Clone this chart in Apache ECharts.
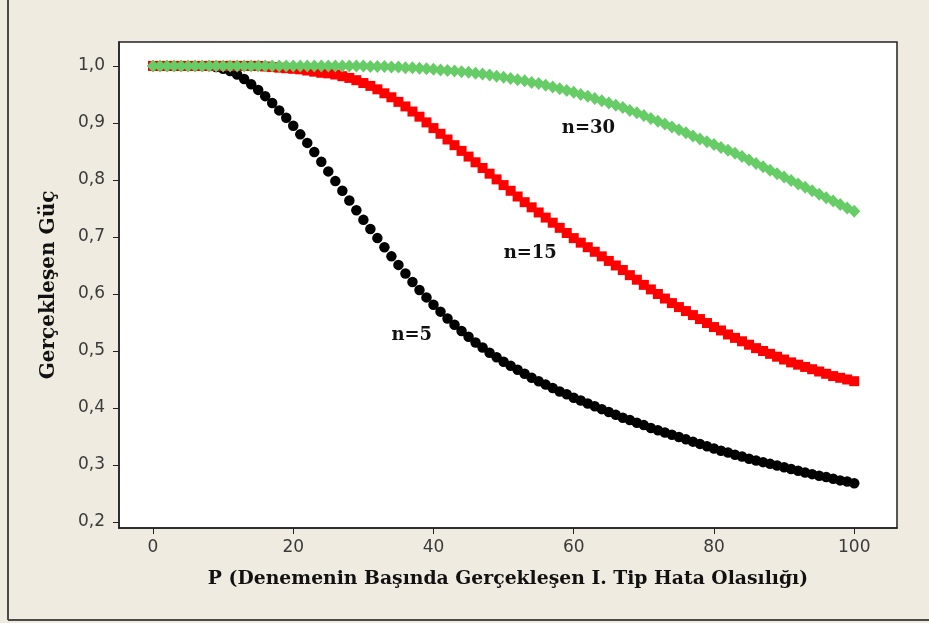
<!DOCTYPE html>
<html>
<head>
<meta charset="utf-8">
<script src="https://cdn.jsdelivr.net/npm/echarts@6/dist/echarts.min.js"></script>
<style>
  html, body { margin: 0; padding: 0; background: #efebe1; }
  #chart { width: 929px; height: 623px; }
</style>
</head>
<body>
<div id="chart"></div>
<script>
// ---- data ----
const pValues = [
  0, 1, 2, 3, 4, 5, 6, 7, 8, 9,
  10, 11, 12, 13, 14, 15, 16, 17, 18, 19,
  20, 21, 22, 23, 24, 25, 26, 27, 28, 29,
  30, 31, 32, 33, 34, 35, 36, 37, 38, 39,
  40, 41, 42, 43, 44, 45, 46, 47, 48, 49,
  50, 51, 52, 53, 54, 55, 56, 57, 58, 59,
  60, 61, 62, 63, 64, 65, 66, 67, 68, 69,
  70, 71, 72, 73, 74, 75, 76, 77, 78, 79,
  80, 81, 82, 83, 84, 85, 86, 87, 88, 89,
  90, 91, 92, 93, 94, 95, 96, 97, 98, 99,
  100
];

// n=5
const power5 = [
  1.000, 1.000, 1.000, 1.000, 1.000, 1.000, 1.000, 1.000, 1.000, 0.998,
  0.995, 0.991, 0.985, 0.977, 0.968, 0.958, 0.947, 0.935, 0.922, 0.909,
  0.895, 0.880, 0.865, 0.849, 0.832, 0.815, 0.798, 0.781, 0.764, 0.747,
  0.730, 0.714, 0.698, 0.682, 0.666, 0.651, 0.636, 0.621, 0.607, 0.594,
  0.581, 0.569, 0.557, 0.546, 0.535, 0.525, 0.515, 0.506, 0.497, 0.489,
  0.481, 0.474, 0.467, 0.460, 0.453, 0.447, 0.441, 0.435, 0.429, 0.424,
  0.418, 0.413, 0.408, 0.403, 0.398, 0.393, 0.388, 0.383, 0.379, 0.374,
  0.370, 0.365, 0.361, 0.357, 0.353, 0.349, 0.345, 0.341, 0.337, 0.333,
  0.329, 0.325, 0.322, 0.318, 0.315, 0.311, 0.308, 0.305, 0.302, 0.299,
  0.296, 0.293, 0.290, 0.287, 0.284, 0.281, 0.279, 0.276, 0.273, 0.271,
  0.268
];

// n=15
const power15 = [
  1.000, 1.000, 1.000, 1.000, 1.000, 1.000, 1.000, 1.000, 1.000, 1.000,
  1.000, 1.000, 1.000, 1.000, 1.000, 1.000, 0.999, 0.998, 0.997, 0.996,
  0.995, 0.994, 0.992, 0.990, 0.988, 0.987, 0.985, 0.982, 0.979, 0.975,
  0.970, 0.965, 0.959, 0.952, 0.945, 0.937, 0.929, 0.920, 0.911, 0.901,
  0.891, 0.881, 0.871, 0.861, 0.851, 0.841, 0.831, 0.821, 0.811, 0.801,
  0.791, 0.781, 0.771, 0.761, 0.752, 0.743, 0.734, 0.725, 0.716, 0.707,
  0.698, 0.690, 0.682, 0.674, 0.666, 0.658, 0.650, 0.642, 0.633, 0.625,
  0.616, 0.608, 0.600, 0.592, 0.584, 0.577, 0.570, 0.563, 0.556, 0.549,
  0.542, 0.536, 0.529, 0.523, 0.517, 0.511, 0.505, 0.500, 0.495, 0.490,
  0.485, 0.480, 0.476, 0.472, 0.468, 0.464, 0.460, 0.456, 0.453, 0.450,
  0.447
];

// n=30
const power30 = [
  1.000, 1.000, 1.000, 1.000, 1.000, 1.000, 1.000, 1.000, 1.000, 1.000,
  1.000, 1.000, 1.000, 1.000, 1.000, 1.000, 1.000, 1.000, 1.000, 1.000,
  1.000, 1.000, 1.000, 1.000, 1.000, 1.000, 1.000, 1.000, 1.000, 1.000,
  1.000, 0.999, 0.999, 0.999, 0.998, 0.998, 0.997, 0.997, 0.996, 0.995,
  0.994, 0.993, 0.992, 0.991, 0.990, 0.989, 0.987, 0.986, 0.984, 0.982,
  0.980, 0.978, 0.976, 0.974, 0.971, 0.969, 0.966, 0.963, 0.960, 0.957,
  0.954, 0.950, 0.947, 0.943, 0.939, 0.935, 0.931, 0.927, 0.922, 0.918,
  0.913, 0.908, 0.903, 0.898, 0.893, 0.888, 0.883, 0.877, 0.872, 0.867,
  0.862, 0.857, 0.852, 0.847, 0.841, 0.835, 0.829, 0.823, 0.817, 0.811,
  0.805, 0.799, 0.793, 0.787, 0.781, 0.775, 0.769, 0.763, 0.757, 0.751,
  0.745
];

const xTicks = [0, 20, 40, 60, 80, 100];
const yTicks = [0.2, 0.3, 0.4, 0.5, 0.6, 0.7, 0.8, 0.9, 1.0];

// curve labels, placed in data space
const curveLabels = [
  { text: 'n=5', p: 36.9, y: 0.528 },
  { text: 'n=15', p: 53.8, y: 0.672 },
  { text: 'n=30', p: 62.1, y: 0.891 },
];

const xTitle = 'P (Denemenin Başında Gerçekleşen I. Tip Hata Olasılığı)';
const yTitle = 'Gerçekleşen Güç';

// ---- chart ----
const chart = echarts.init(document.getElementById('chart'));

const zip = (ys) => pValues.map((p, i) => [p, ys[i]]);
const serifBold = { fontFamily: 'DejaVu Serif', fontWeight: 'bold', color: '#111' };
const tickFont = { fontFamily: 'DejaVu Sans', fontSize: 17, color: '#3a3a3a' };

chart.setOption({
  backgroundColor: '#efebe1',
  animation: false,
  grid: {
    left: 119, right: 32, top: 42, bottom: 95,
    show: true,
    backgroundColor: '#ffffff',
    borderColor: '#222',
    borderWidth: 1.5,
  },
  xAxis: {
    type: 'value',
    min: -4.85,
    max: 106.1,
    name: xTitle,
    nameLocation: 'middle',
    nameGap: 42,
    nameTextStyle: Object.assign({ fontSize: 18.8 }, serifBold),
    axisLine: { show: true, onZero: false, lineStyle: { color: '#222', width: 1.5 } },
    axisTick: { show: true, length: 6, customValues: xTicks, lineStyle: { color: '#222' } },
    axisLabel: Object.assign({ customValues: xTicks, margin: 11 }, tickFont),
    splitLine: { show: false },
  },
  yAxis: {
    type: 'value',
    min: 0.1895,
    max: 1.042,
    name: yTitle,
    nameLocation: 'middle',
    nameGap: 60,
    nameTextStyle: Object.assign({ fontSize: 20 }, serifBold),
    axisLine: { show: true, onZero: false, lineStyle: { color: '#222', width: 1.5 } },
    axisTick: { show: true, length: 6, customValues: yTicks, lineStyle: { color: '#222' } },
    axisLabel: Object.assign({
      customValues: yTicks,
      margin: 14,
      formatter: (v) => v.toFixed(1).replace('.', ','),
    }, tickFont),
    splitLine: { show: false },
  },
  graphic: [
    { type: 'line', shape: { x1: 8, y1: 0, x2: 8, y2: 620 }, style: { stroke: '#4a4a4a', lineWidth: 2 } },
    { type: 'line', shape: { x1: 8, y1: 620, x2: 929, y2: 620 }, style: { stroke: '#4a4a4a', lineWidth: 2 } },
  ],
  series: [
    {
      name: 'n=5',
      type: 'scatter',
      symbol: 'circle',
      symbolSize: 10.5,
      itemStyle: { color: '#000000', opacity: 1 },
      data: zip(power5),
      z: 2,
    },
    {
      name: 'n=15',
      type: 'scatter',
      symbol: 'rect',
      symbolSize: 10,
      itemStyle: { color: '#ff0000', opacity: 1 },
      data: zip(power15),
      z: 3,
    },
    {
      name: 'n=30',
      type: 'scatter',
      symbol: 'diamond',
      symbolSize: [12, 13],
      itemStyle: { color: '#66cc66', opacity: 1 },
      data: zip(power30),
      z: 4,
      markPoint: {
        symbol: 'circle',
        symbolSize: 0,
        silent: true,
        label: Object.assign({
          show: true,
          position: 'inside',
          fontSize: 18,
          formatter: (p) => p.name,
        }, serifBold),
        data: curveLabels.map(l => ({ name: l.text, coord: [l.p, l.y] })),
      },
    },
  ],
});
</script>
</body>
</html>
